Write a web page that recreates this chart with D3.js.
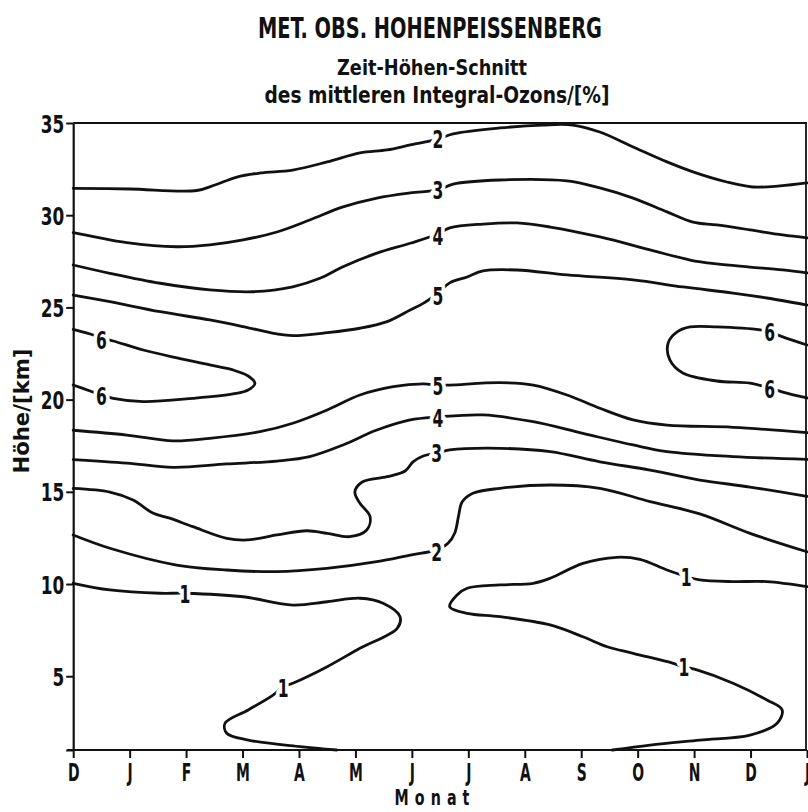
<!DOCTYPE html>
<html><head><meta charset="utf-8">
<script src="https://cdn.jsdelivr.net/npm/d3@7"></script>
<style>
body{margin:0;background:#fff;}
svg{display:block;}
text{font-family:"DejaVu Sans Condensed","Liberation Sans Narrow",sans-serif;font-weight:bold;fill:#111;}
</style></head><body>
<svg id="chart" width="808" height="812"></svg>
<script>
// ---- data (month index 0 = December, height in km) ----
const months = ["D","J","F","M","A","M","J","J","A","S","O","N","D","J"];
const heightTicks = [1,5,10,15,20,25,30,35];

const iso2Top = [[0,31.46],[1.0,31.42],[2.19,31.34],[2.51,31.64],[2.90,32.07],[3.31,32.29],[3.89,32.45],[4.50,32.89],[5.08,33.38],[5.56,33.54],[5.97,33.81],[6.46,34.13],[6.73,34.41],[7.56,34.73],[8.32,34.89],[8.85,34.89],[9.33,34.51],[9.92,33.70],[10.52,32.89],[10.98,32.35],[11.58,31.80],[12.04,31.53],[12.52,31.59],[13.0,31.75]];
const iso3Top = [[0,29.05],[0.36,28.84],[0.95,28.51],[1.83,28.29],[2.42,28.39],[3.01,28.66],[3.61,29.09],[4.19,29.74],[4.78,30.45],[5.38,30.93],[5.97,31.21],[6.46,31.37],[6.73,31.69],[7.56,31.91],[8.75,31.86],[9.33,31.48],[9.92,30.93],[10.52,30.18],[10.98,29.63],[11.40,29.47],[11.99,29.20],[12.57,28.93],[13.0,28.77]];
const iso4Top = [[0,27.30],[0.65,26.85],[1.54,26.31],[2.42,25.95],[3.19,25.85],[3.89,26.12],[4.37,26.58],[4.78,27.21],[5.38,27.94],[5.97,28.48],[6.46,28.98],[6.67,29.31],[7.26,29.52],[7.86,29.58],[8.45,29.36],[9.33,28.82],[10.22,28.12],[10.93,27.57],[11.40,27.36],[11.99,27.19],[12.57,27.03],[13.0,26.87]];
const iso5Top = [[0,25.67],[0.65,25.31],[1.54,24.77],[2.42,24.32],[3.01,23.96],[3.61,23.56],[3.89,23.47],[4.50,23.63],[5.08,23.87],[5.56,24.23],[5.97,24.86],[6.20,25.22],[6.46,25.78],[6.67,26.33],[6.98,26.65],[7.26,26.98],[7.86,27.03],[8.75,26.76],[9.92,26.49],[10.80,26.11],[11.69,25.78],[12.29,25.51],[13.0,25.13]];
const iso6Left = [[0,23.81],[0.30,23.56],[0.50,23.34],[0.71,23.18],[1.24,22.69],[1.84,22.26],[2.42,21.88],[2.83,21.61],[3.10,21.28],[3.22,20.89],[3.10,20.52],[2.83,20.31],[2.12,20.07],[1.24,19.89],[0.71,20.07],[0.50,20.25],[0.30,20.47],[0,20.79]];
const iso6Right = [[13.0,22.96],[12.57,23.40],[12.34,23.67],[12.17,23.78],[11.40,23.94],[10.93,23.94],[10.70,23.67],[10.54,23.07],[10.57,22.15],[10.80,21.44],[11.40,21.01],[11.99,20.90],[12.34,20.63],[12.57,20.41],[13.0,20.09]];
const iso5Low = [[0,18.34],[0.95,18.08],[1.77,17.76],[2.42,17.90],[3.31,18.26],[3.89,18.72],[4.50,19.44],[5.08,20.25],[5.67,20.70],[6.20,20.85],[6.46,20.79],[6.67,20.79],[7.56,20.92],[8.15,20.79],[8.75,20.25],[9.33,19.53],[9.92,18.90],[10.52,18.62],[11.69,18.50],[13.0,18.21]];
const iso4Low = [[0,16.75],[0.95,16.56],[1.77,16.33],[2.72,16.51],[3.61,16.67],[4.19,16.91],[4.78,17.54],[5.38,18.35],[5.97,18.90],[6.46,19.06],[7.26,19.17],[8.15,18.80],[9.03,18.17],[9.92,17.54],[10.52,17.18],[11.69,16.91],[13.0,16.76]];
const iso3Low = [[0,15.19],[0.65,14.99],[1.06,14.56],[1.41,13.85],[1.71,13.57],[2.12,13.11],[2.72,12.48],[3.08,12.39],[3.61,12.66],[4.14,12.89],[4.50,12.75],[4.90,12.57],[5.20,12.93],[5.26,13.65],[5.08,14.38],[4.99,14.99],[5.12,15.53],[5.56,15.82],[5.88,16.13],[6.02,16.62],[6.20,16.94],[6.44,17.09],[6.67,17.27],[7.56,17.36],[8.45,17.18],[9.33,16.63],[10.22,16.18],[11.10,15.64],[11.99,15.26],[13.0,14.75]];
const iso2Low = [[0,12.66],[0.65,11.94],[1.83,11.03],[2.72,10.76],[3.60,10.67],[4.49,10.85],[5.38,11.21],[5.97,11.57],[6.44,11.85],[6.64,12.21],[6.76,12.77],[6.83,13.74],[6.89,14.45],[7.08,14.92],[7.56,15.19],[8.45,15.37],[9.33,15.19],[10.22,14.47],[11.10,13.80],[11.99,12.75],[13.0,11.75]];
const iso1Left = [[0,10.04],[0.65,9.68],[1.54,9.50],[1.98,9.50],[3.01,9.31],[3.89,8.86],[4.50,9.04],[5.08,9.23],[5.49,8.96],[5.79,8.23],[5.74,7.60],[5.08,6.52],[4.50,5.52],[3.89,4.62],[3.72,4.42],[3.54,3.98],[3.10,3.17],[2.69,2.45],[2.72,1.91],[3.10,1.54],[4.02,1.18],[4.67,1.0]];
const iso1Right = [[9.55,1.0],[10.22,1.27],[11.10,1.54],[11.99,1.81],[12.47,2.45],[12.56,3.17],[12.29,3.71],[11.69,4.62],[11.05,5.34],[10.80,5.52],[10.63,5.70],[9.92,6.24],[9.46,6.60],[9.03,7.14],[8.45,7.78],[7.56,8.23],[6.98,8.41],[6.67,8.77],[6.80,9.41],[6.98,9.77],[7.56,9.95],[8.15,10.04],[8.45,10.31],[9.03,11.12],[9.63,11.45],[10.04,11.34],[10.52,10.76],[10.87,10.40],[11.10,10.22],[11.69,10.13],[12.29,10.13],[13.0,9.86]];

const isolines = [iso2Top, iso3Top, iso4Top, iso5Top, iso6Left, iso6Right, iso5Low, iso4Low, iso3Low, iso2Low, iso1Left, iso1Right];

// contour labels: value, month, km
const labelValues = ["2","3","4","5","6","6","6","6","5","4","3","2","1","1","1","1"];
const labelMonths = [6.46,6.46,6.46,6.46,0.50,0.50,12.34,12.34,6.46,6.46,6.44,6.44,1.98,3.72,10.86,10.82];
const labelKm     = [34.13,31.37,28.87,25.62,23.23,20.16,23.67,20.58,20.74,19.00,17.11,11.74,9.46,4.36,10.38,5.50];

// ---- drawing ----
const svg = d3.select("#chart");
const x = d3.scaleLinear().domain([0,13]).range([73.2,807]);
const y = d3.scaleLinear().domain([1,35]).range([750,123]);

// titles
svg.append("text").attr("x",430).attr("y",38).attr("text-anchor","middle")
  .attr("font-size",29).attr("textLength",344).attr("lengthAdjust","spacingAndGlyphs")
  .text("MET. OBS. HOHENPEISSENBERG");
svg.append("text").attr("x",432).attr("y",75).attr("text-anchor","middle")
  .attr("font-size",22).attr("textLength",190).attr("lengthAdjust","spacingAndGlyphs")
  .text("Zeit-Höhen-Schnitt");
svg.append("text").attr("x",437).attr("y",103).attr("text-anchor","middle")
  .attr("font-size",23).attr("textLength",345).attr("lengthAdjust","spacingAndGlyphs")
  .text("des mittleren Integral-Ozons/[%]");

// frame top and right
svg.append("line").attr("x1",x(0)).attr("x2",x(13)).attr("y1",y(35)).attr("y2",y(35))
  .attr("stroke","#111").attr("stroke-width",1.8);
svg.append("line").attr("x1",x(13)-1).attr("x2",x(13)-1).attr("y1",y(35)).attr("y2",y(1))
  .attr("stroke","#111").attr("stroke-width",1.8);

// axes
const gy = svg.append("g").attr("transform",`translate(${x(0)},0)`)
  .call(d3.axisLeft(y).tickValues(heightTicks).tickSize(7).tickSizeOuter(0).tickPadding(5)
        .tickFormat(d => d === 1 ? "" : d));
const gx = svg.append("g").attr("transform",`translate(0,${y(1)})`)
  .call(d3.axisBottom(x).tickValues(d3.range(months.length)).tickSize(8).tickSizeOuter(0).tickPadding(5)
        .tickFormat((d,i) => months[i]));
[gx, gy].forEach(g => {
  g.select(".domain").attr("stroke","#111").attr("stroke-width",2.2);
  g.selectAll(".tick line").attr("stroke","#111").attr("stroke-width",2);
  g.selectAll(".tick text").attr("fill","#111")
    .style("font-family",'"DejaVu Sans Condensed",sans-serif').style("font-weight","bold");
});
gy.selectAll(".tick text").attr("font-size",25).attr("dy","0.36em").attr("transform","scale(0.75,1)");
gx.selectAll(".tick text").attr("font-size",25).attr("transform","scale(0.62,1)");
gx.select(".domain").attr("d",`M${x(0)-6},0H${x(13)}`);

// axis titles
svg.append("text").attr("transform","translate(29,411) rotate(-90)").attr("text-anchor","middle")
  .attr("font-size",21).attr("textLength",125).attr("lengthAdjust","spacingAndGlyphs").text("Höhe/[km]");
svg.append("text").attr("transform","translate(432,805) scale(0.72,1)").attr("text-anchor","middle")
  .attr("font-size",22).attr("textLength",104).attr("lengthAdjust","spacing").text("Monat");

// isolines
const line = d3.line().x(d => x(d[0])).y(d => y(d[1])).curve(d3.curveCatmullRom.alpha(0.5));
svg.append("g").selectAll("path").data(isolines).join("path")
  .attr("d", line).attr("fill","none").attr("stroke","#111")
  .attr("stroke-width",2.8).attr("stroke-linejoin","round").attr("stroke-linecap","round");

// contour labels with white gap
svg.append("g").selectAll("text").data(labelValues).join("text")
  .attr("transform",(d,i)=>`translate(${x(labelMonths[i])},${y(labelKm[i])}) scale(0.72,1)`)
  .attr("dy","0.36em").attr("text-anchor","middle").attr("font-size",24)
  .attr("stroke","#fff").attr("stroke-width",10).attr("paint-order","stroke")
  .attr("stroke-linejoin","round")
  .text(d=>d);
</script>
</body></html>
